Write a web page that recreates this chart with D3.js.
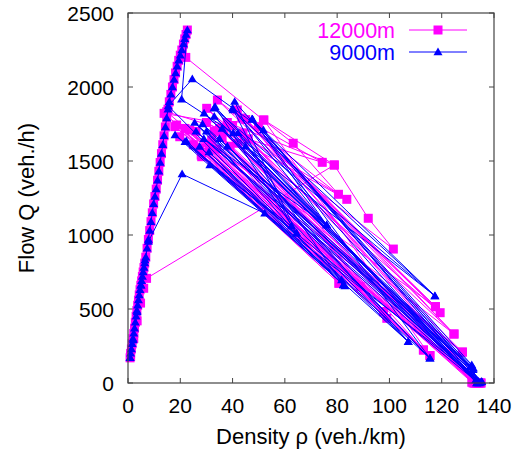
<!DOCTYPE html>
<html>
<head>
<meta charset="utf-8">
<script src="https://cdn.jsdelivr.net/npm/d3@7"></script>
<style>
  body { margin: 0; background: #fff; }
  text { font-family: "Liberation Sans", Arial, sans-serif; }
</style>
</head>
<body>
<div id="chart"></div>
<script>
var width = 528,
    height = 453;

var xTicks = [0, 20, 40, 60, 80, 100, 120, 140],
    yTicks = [0, 500, 1000, 1500, 2000, 2500];

var seriesNames = ["12000m", "9000m"],
    seriesColors = ["#ff00ff", "#0000ff"];

// free-flow branch, climbed by both detectors
var freeFlow = [
    [0.8, 170], [1.0, 200], [1.3, 230], [1.6, 265], [1.9, 300], [2.2, 335], [2.5, 370],
    [2.8, 410], [3.1, 450], [3.4, 490], [3.7, 525], [4.0, 560], [4.3, 595], [4.6, 630],
    [4.9, 660], [5.2, 690], [5.5, 720], [5.8, 750], [6.1, 780], [6.4, 810], [6.8, 850],
    [7.3, 910], [7.8, 970], [8.3, 1030], [8.8, 1090], [9.3, 1150], [9.8, 1210], [10.3, 1260],
    [10.8, 1310], [11.3, 1370], [11.8, 1430], [12.3, 1490], [12.8, 1550], [13.3, 1610],
    [13.8, 1670], [14.3, 1730], [14.8, 1790], [15.3, 1850], [15.8, 1900], [16.4, 1950],
    [17.0, 2000], [17.6, 2050], [18.2, 2095], [18.8, 2140], [19.4, 2180], [20.0, 2215],
    [20.6, 2250], [21.2, 2290], [21.7, 2325], [22.2, 2355], [22.7, 2385]
];

// 12000m after breakdown
var jam12 = [
    [22.1, 2200], [51.8, 1777], [63.2, 1620], [80.5, 1275], [34.2, 1912], [117.6, 516],
    [43.5, 1790], [119.4, 475], [30.1, 1856], [135, 0], [41.8, 1845], [124.7, 331],
    [49.9, 1732], [74.3, 1491], [36.5, 1700], [134, 0], [27.4, 1585], [97.7, 482],
    [38, 1760], [78.9, 1473], [91.9, 1113], [101.5, 905], [44, 1690], [127.9, 209],
    [32, 1640], [113, 223], [28.2, 1529], [80.7, 674], [33, 1700], [132, 0],
    [46, 1650], [83.7, 1241], [30, 1760], [99, 437], [25, 1610], [88.8, 651],
    [39, 1600], [133, 0], [21.8, 1720], [115.5, 185], [18.6, 1743], [134.5, 0],
    [14.8, 1833], [35, 1720], [131.5, 5], [23.6, 1709], [97.7, 482], [28, 1540],
    [80.7, 674], [36, 1660], [135, 0], [19.8, 1664], [113, 223], [42, 1620],
    [133.5, 0], [17.9, 1732], [127.9, 209], [31, 1600], [132.5, 0], [13.8, 1822],
    [40, 1740], [124.7, 331], [26, 1700], [134, 0], [45, 1780], [117.6, 516],
    [34, 1580], [115.5, 185], [52, 1777], [78.9, 1473], [7.1, 707],
    [6.0, 640], [4.8, 540], [3.5, 420], [2.2, 300], [1.0, 180]
];

// 9000m after breakdown
var jam9 = [
    [20.5, 1917], [40.2, 1689], [135.3, 9], [40.8, 1901], [64.5, 1011], [33.3, 1867],
    [133.4, 0], [32.9, 1856], [117.4, 588], [47.4, 1782], [131.5, 122], [29.1, 1822],
    [132.1, 99], [25.5, 1759], [107.2, 279], [22.3, 1635], [82.4, 662], [27.4, 1597],
    [115.5, 167], [47.6, 1782], [76, 1067], [40, 1856], [62.6, 1060], [31.3, 1473],
    [81.7, 696], [15.4, 1872], [24.6, 2054], [51.8, 1709], [134, 0], [21.8, 1630],
    [83, 655], [18, 1676], [64.5, 1011], [30, 1700], [134.5, 0], [35, 1650],
    [133, 20], [26, 1700], [131, 110], [47.6, 1782], [135, 5], [38, 1600],
    [115.5, 167], [28.5, 1750], [132, 90], [36, 1720], [107.2, 279], [31, 1560],
    [82.4, 662], [42, 1690], [134, 10], [45, 1600], [117.4, 588], [40.2, 1845],
    [133.4, 0], [33, 1800], [76, 1067], [29, 1650], [135.3, 9], [52.3, 1146],
    [20.7, 1412], [7.8, 955],
    [6.5, 830], [5.0, 660], [3.5, 480], [2.0, 290], [0.8, 170]
];

var series = [freeFlow.concat(jam12), freeFlow.concat(jam9)];

var margin = { top: 13, right: 34, bottom: 70, left: 128 };

var x = d3.scaleLinear().domain([0, 140]).range([margin.left, width - margin.right]);
var y = d3.scaleLinear().domain([0, 2500]).range([height - margin.bottom, margin.top]);

var svg = d3.select("#chart")
    .append("svg")
    .attr("width", width)
    .attr("height", height);

var line = d3.line()
    .x(function (d) { return x(d[0]); })
    .y(function (d) { return y(d[1]); });

var square = "M-4.5,-4.5H4.5V4.5H-4.5Z",
    triangle = "M0,-4.5L4.5,3.2L-4.5,3.2Z",
    shapes = [square, triangle];

// ticks, pointing in on all four sides
var grid = svg.append("g").attr("stroke", "#444").attr("stroke-width", 1);
xTicks.forEach(function (t) {
    grid.append("line").attr("x1", x(t)).attr("x2", x(t))
        .attr("y1", y(0)).attr("y2", y(0) - 5);
    grid.append("line").attr("x1", x(t)).attr("x2", x(t))
        .attr("y1", y(2500)).attr("y2", y(2500) + 5);
});
yTicks.forEach(function (t) {
    grid.append("line").attr("x1", x(0)).attr("x2", x(0) + 5)
        .attr("y1", y(t)).attr("y2", y(t));
    grid.append("line").attr("x1", x(140)).attr("x2", x(140) - 5)
        .attr("y1", y(t)).attr("y2", y(t));
});

series.forEach(function (pts, i) {
    var g = svg.append("g");
    g.append("path")
        .attr("d", line(pts))
        .attr("fill", "none")
        .attr("stroke", seriesColors[i])
        .attr("stroke-width", 1);
    g.selectAll("path.pt").data(pts).enter()
        .append("path")
        .attr("class", "pt")
        .attr("d", shapes[i])
        .attr("fill", seriesColors[i])
        .attr("transform", function (d) {
            return "translate(" + x(d[0]) + "," + y(d[1]) + ")";
        });
});

svg.append("rect")
    .attr("x", x(0)).attr("y", y(2500))
    .attr("width", x(140) - x(0)).attr("height", y(0) - y(2500))
    .attr("fill", "none").attr("stroke", "#444").attr("stroke-width", 1.2);

svg.append("g").selectAll("text").data(xTicks).enter()
    .append("text")
    .attr("x", function (d) { return x(d); })
    .attr("y", 413)
    .attr("text-anchor", "middle")
    .attr("font-size", 21)
    .text(function (d) { return d; });

svg.append("g").selectAll("text").data(yTicks).enter()
    .append("text")
    .attr("x", 114)
    .attr("y", function (d) { return y(d) + 7.5; })
    .attr("text-anchor", "end")
    .attr("font-size", 21)
    .text(function (d) { return d; });

svg.append("text")
    .attr("x", 311).attr("y", 444)
    .attr("text-anchor", "middle")
    .attr("font-size", 22)
    .text("Density ρ (veh./km)");

svg.append("text")
    .attr("transform", "translate(34," + ((y(0) + y(2500)) / 2) + ") rotate(-90)")
    .attr("text-anchor", "middle")
    .attr("font-size", 22)
    .text("Flow Q (veh./h)");

var legend = svg.append("g").selectAll("g").data(seriesNames).enter()
    .append("g")
    .attr("transform", function (d, i) { return "translate(0," + (30 + i * 22) + ")"; });

legend.append("text")
    .attr("x", 395).attr("y", 7.5)
    .attr("text-anchor", "end")
    .attr("font-size", 21.5)
    .attr("fill", function (d, i) { return seriesColors[i]; })
    .text(function (d) { return d; });

legend.append("line")
    .attr("x1", 409).attr("x2", 467)
    .attr("stroke", function (d, i) { return seriesColors[i]; })
    .attr("stroke-width", 1);

legend.append("path")
    .attr("d", function (d, i) { return shapes[i]; })
    .attr("transform", "translate(438,0)")
    .attr("fill", function (d, i) { return seriesColors[i]; });
</script>
</body>
</html>
